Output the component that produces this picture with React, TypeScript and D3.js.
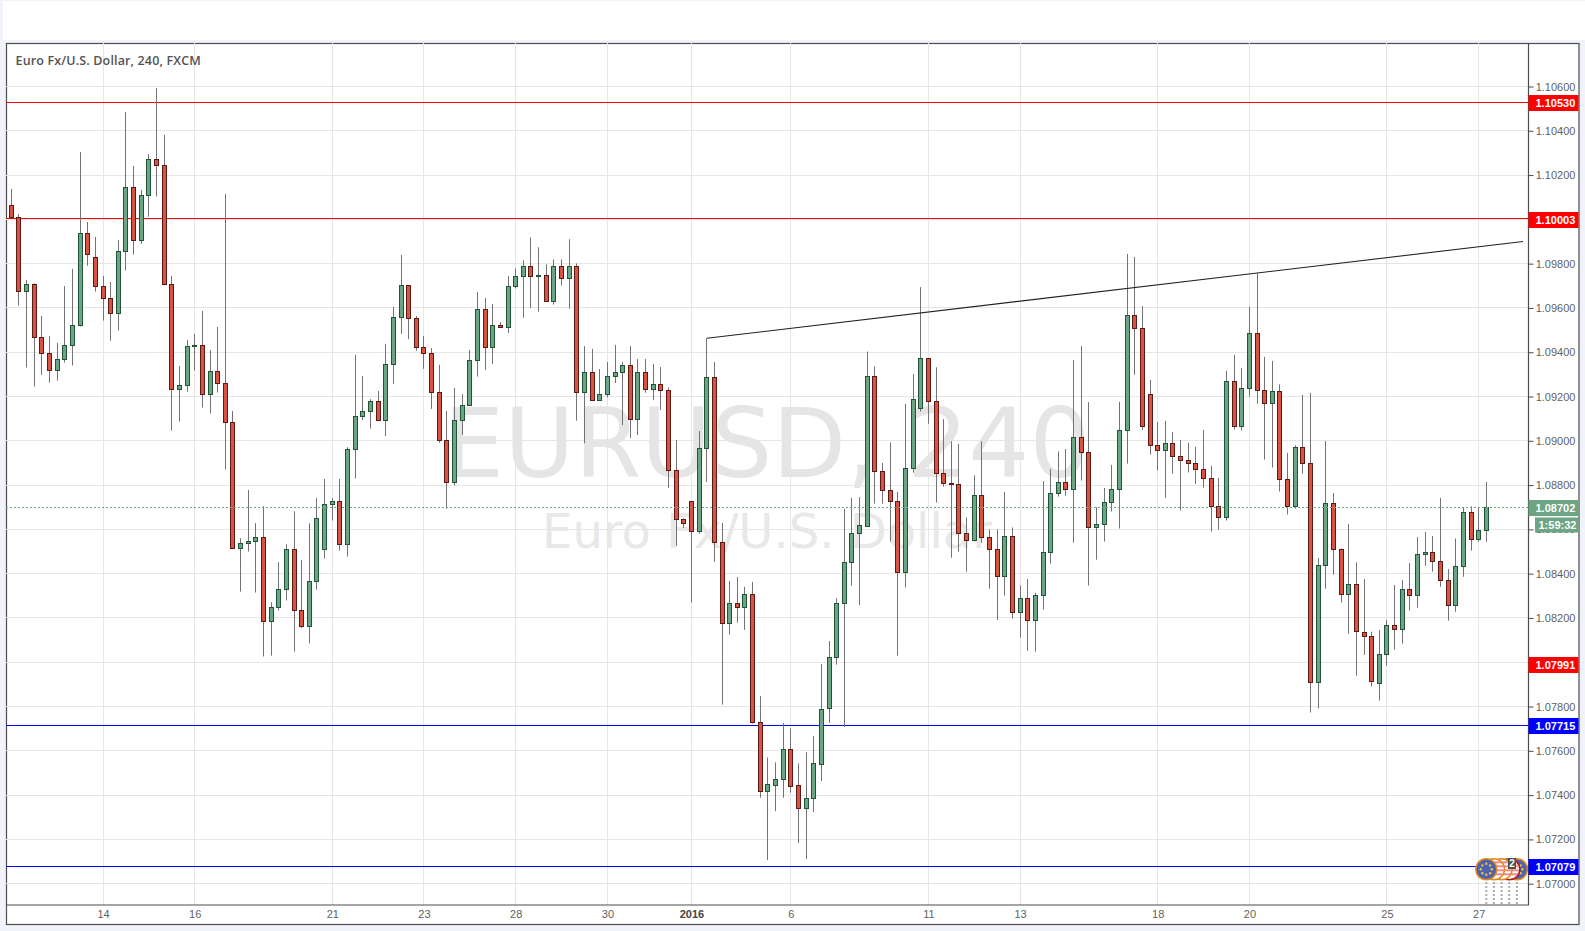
import * as d3 from "d3";
import { useEffect, useRef } from "react";

const WIDTH = 1585;
const HEIGHT = 931;

const opens = [
  1.10064,1.10009,1.09675,1.09707,1.09468,1.09395,1.09319,1.09368,1.09431,1.09522,
  1.09937,1.09829,1.09698,1.09644,1.09576,1.09856,1.10145,1.09906,1.10109,1.10271,
  1.10244,1.09707,1.09233,1.09251,1.09427,1.09431,1.09210,1.09314,1.09260,1.09084,
  1.08515,1.08538,1.08547,1.08565,1.08185,1.08249,1.08330,1.08510,1.08235,1.08163,
  1.08366,1.08510,1.08714,1.08727,1.08533,1.08962,1.09111,1.09134,1.09179,1.09093,
  1.09346,1.09558,1.09702,1.09553,1.09423,1.09395,1.09219,1.09003,1.08813,1.09092,
  1.09160,1.09363,1.09594,1.09422,1.09521,1.09512,1.09698,1.09743,1.09788,1.09743,
  1.09747,1.09630,1.09788,1.09734,1.09788,1.09219,1.09309,1.09183,1.09210,1.09291,
  1.09309,1.09341,1.09097,1.09309,1.09232,1.09255,1.09228,1.08867,1.08646,1.08727,
  1.08591,1.08966,1.09287,1.08542,1.08176,1.08266,1.08247,1.08307,1.07729,1.07416,
  1.07448,1.07475,1.07610,1.07444,1.07339,1.07385,1.07543,1.07791,1.08022,1.08266,
  1.08451,1.08584,1.08617,1.09293,1.08862,1.08776,1.08727,1.08406,1.08876,1.09147,
  1.09372,1.09178,1.08853,1.08808,1.08803,1.08582,1.08551,1.08754,1.08564,1.08510,
  1.08388,1.08569,1.08226,1.08289,1.08189,1.08302,1.08496,1.08763,1.08812,1.08781,
  1.09016,1.08948,1.08609,1.08623,1.08723,1.08781,1.09048,1.09567,1.09508,1.09210,
  1.08980,1.08957,1.08989,1.08930,1.08912,1.08899,1.08872,1.08831,1.08705,1.08655,
  1.09269,1.09066,1.09237,1.09486,1.09228,1.09170,1.09224,1.08827,1.08703,1.08971,
  1.08899,1.07910,1.08436,1.08717,1.08510,1.08305,1.08352,1.08138,1.08120,1.07905,
  1.08036,1.08167,1.08149,1.08329,1.08302,1.08487,1.08496,1.08456,1.08370,1.08257,
  1.08433,1.08677,1.08555,1.08596,
];

const highs = [
  1.10137,1.10024,1.09726,1.09711,1.09564,1.09474,1.09442,1.09699,1.09776,1.10304,
  1.09988,1.09921,1.09744,1.09717,1.09907,1.10485,1.10241,1.10133,1.10295,1.10593,
  1.10381,1.09744,1.09338,1.09456,1.09483,1.09586,1.09410,1.09514,1.10115,1.09135,
  1.08560,1.08778,1.08628,1.08705,1.08271,1.08452,1.08533,1.08682,1.08461,1.08628,
  1.08742,1.08828,1.08741,1.08828,1.08971,1.09388,1.09293,1.09188,1.09225,1.09438,
  1.09605,1.09839,1.09702,1.09564,1.09474,1.09419,1.09343,1.09135,1.09239,1.09211,
  1.09410,1.09672,1.09645,1.09618,1.09536,1.09744,1.09779,1.09815,1.09919,1.09874,
  1.09797,1.09819,1.09819,1.09910,1.09801,1.09428,1.09415,1.09324,1.09356,1.09433,
  1.09356,1.09428,1.09369,1.09369,1.09347,1.09333,1.09241,1.09004,1.08650,1.08727,
  1.09044,1.09463,1.09356,1.08629,1.08367,1.08385,1.08341,1.08363,1.07847,1.07570,
  1.07548,1.07726,1.07702,1.07543,1.07595,1.07666,1.07992,1.08096,1.08289,1.08693,
  1.08743,1.08746,1.09403,1.09336,1.08900,1.08993,1.08769,1.09166,1.09302,1.09694,
  1.09372,1.09332,1.09098,1.08998,1.08986,1.08654,1.08844,1.08998,1.08600,1.08600,
  1.08769,1.08609,1.08347,1.08376,1.08313,1.08818,1.08873,1.08952,1.08963,1.09365,
  1.09428,1.09175,1.08700,1.08787,1.08891,1.09176,1.09844,1.09830,1.09608,1.09275,
  1.09085,1.09090,1.09040,1.09004,1.08991,1.08973,1.09049,1.08887,1.08833,1.09316,
  1.09388,1.09329,1.09605,1.09757,1.09379,1.09361,1.09255,1.08945,1.08980,1.09207,
  1.09216,1.08471,1.08999,1.08764,1.08514,1.08624,1.08451,1.08376,1.08138,1.08146,
  1.08191,1.08349,1.08371,1.08448,1.08565,1.08588,1.08570,1.08742,1.08421,1.08559,
  1.08699,1.08704,1.08699,1.08814,
];

const lows = [
  1.10009,1.09611,1.09331,1.09245,1.09299,1.09263,1.09272,1.09353,1.09340,1.09516,
  1.09791,1.09674,1.09543,1.09452,1.09498,1.09769,1.09841,1.09890,1.10012,1.10103,
  1.09702,1.09046,1.09087,1.09222,1.09317,1.09150,1.09123,1.09218,1.08870,1.08515,
  1.08319,1.08500,1.08315,1.08026,1.08030,1.08234,1.08279,1.08048,1.08154,1.08085,
  1.08328,1.08468,1.08640,1.08504,1.08477,1.08830,1.09094,1.09055,1.09093,1.09022,
  1.09257,1.09483,1.09460,1.09406,1.09325,1.09144,1.08991,1.08693,1.08798,1.09026,
  1.09160,1.09290,1.09320,1.09347,1.09512,1.09487,1.09688,1.09556,1.09600,1.09583,
  1.09630,1.09615,1.09701,1.09597,1.09091,1.08989,1.09183,1.09183,1.09196,1.09261,
  1.09071,1.09013,1.09026,1.09217,1.09184,1.09139,1.08787,1.08525,1.08606,1.08269,
  1.08581,1.08814,1.08454,1.07809,1.08125,1.08179,1.08146,1.07723,1.07388,1.07107,
  1.07328,1.07388,1.07411,1.07184,1.07112,1.07324,1.07464,1.07726,1.07989,1.07708,
  1.08346,1.08258,1.08617,1.08716,1.08716,1.08545,1.08030,1.08338,1.08856,1.09132,
  1.09077,1.08721,1.08793,1.08472,1.08499,1.08409,1.08545,1.08539,1.08332,1.08191,
  1.08301,1.08197,1.08111,1.08052,1.08048,1.08238,1.08445,1.08748,1.08752,1.08540,
  1.08820,1.08347,1.08463,1.08545,1.08681,1.08604,1.08897,1.09298,1.09049,1.08938,
  1.08866,1.08742,1.08852,1.08685,1.08857,1.08805,1.08789,1.08590,1.08599,1.08640,
  1.09051,1.09046,1.09200,1.09168,1.08915,1.08879,1.08771,1.08667,1.08694,1.08852,
  1.07773,1.07791,1.08332,1.08395,1.08269,1.08129,1.07939,1.08033,1.07890,1.07827,
  1.07985,1.08057,1.08084,1.08233,1.08246,1.08436,1.08409,1.08341,1.08188,1.08228,
  1.08386,1.08504,1.08544,1.08544,
];

const closes = [
  1.10009,1.09675,1.09707,1.09468,1.09395,1.09319,1.09368,1.09431,1.09522,1.09937,
  1.09842,1.09698,1.09644,1.09576,1.09856,1.10145,1.09906,1.10109,1.10271,1.10244,
  1.09707,1.09233,1.09251,1.09427,1.09431,1.09210,1.09314,1.09260,1.09084,1.08515,
  1.08538,1.08547,1.08565,1.08185,1.08249,1.08330,1.08510,1.08235,1.08163,1.08366,
  1.08650,1.08714,1.08727,1.08533,1.08962,1.09111,1.09134,1.09179,1.09093,1.09346,
  1.09558,1.09702,1.09553,1.09423,1.09395,1.09219,1.09003,1.08813,1.09093,1.09160,
  1.09363,1.09594,1.09422,1.09521,1.09512,1.09698,1.09743,1.09788,1.09743,1.09747,
  1.09630,1.09788,1.09734,1.09788,1.09219,1.09309,1.09183,1.09210,1.09291,1.09309,
  1.09341,1.09097,1.09309,1.09232,1.09255,1.09228,1.08867,1.08646,1.08627,1.08591,
  1.08966,1.09287,1.08542,1.08176,1.08266,1.08248,1.08307,1.07729,1.07416,1.07448,
  1.07475,1.07610,1.07444,1.07339,1.07385,1.07543,1.07791,1.08022,1.08266,1.08451,
  1.08584,1.08620,1.09293,1.08862,1.08776,1.08727,1.08406,1.08876,1.09187,1.09372,
  1.09178,1.08853,1.08808,1.08803,1.08582,1.08551,1.08754,1.08564,1.08510,1.08388,
  1.08569,1.08226,1.08289,1.08189,1.08302,1.08496,1.08763,1.08812,1.08781,1.09016,
  1.08948,1.08609,1.08623,1.08722,1.08781,1.09048,1.09567,1.09508,1.09066,1.08980,
  1.08957,1.08989,1.08930,1.08912,1.08899,1.08872,1.08831,1.08705,1.08655,1.09269,
  1.09066,1.09237,1.09486,1.09228,1.09170,1.09224,1.08827,1.08703,1.08971,1.08899,
  1.07910,1.08438,1.08717,1.08508,1.08305,1.08352,1.08138,1.08120,1.07917,1.08036,
  1.08167,1.08149,1.08329,1.08302,1.08487,1.08496,1.08456,1.08370,1.08257,1.08433,
  1.08677,1.08555,1.08596,1.08702,
];

const priceTicks = [
  1.07, 1.072, 1.074, 1.076, 1.078, 1.08, 1.082, 1.084, 1.086, 1.088, 1.09,
  1.092, 1.094, 1.096, 1.098, 1.1, 1.102, 1.104, 1.106,
];
const dateTickBars = [12, 24, 42, 54, 66, 78, 89, 102, 120, 132, 150, 162, 180, 192];
const dateTickLabels = ["14", "16", "21", "23", "28", "30", "2016", "6", "11", "13", "18", "20", "25", "27"];

const redLevels = [1.1053, 1.10003];
const blueLevels = [1.07715, 1.07079];
const trendBars = [91, 197.8];
const trendPrices = [1.09463, 1.099];
const lastPrice = 1.08702;
const countdown = "1:59:32";

const priceTags = [
  { price: 1.1053, color: "#ff0000" },
  { price: 1.10003, color: "#ff0000" },
  { price: 1.07991, color: "#ff0000" },
  { price: 1.07715, color: "#0000ff" },
  { price: 1.07079, color: "#0000ff" },
  { price: lastPrice, color: "#6ba583" },
];

// events on the time scale, right one is drawn first
const eventBars = [197, 196, 195, 194, 193];
const eventKinds = ["eu", "us", "us", "us", "eu"];

const UP = "#6ba583";
const UP_BORDER = "#225437";
const DOWN = "#d75442";
const DOWN_BORDER = "#5b1a13";
const WICK = "#737375";
const GRID = "#e6e6e6";
const FRAME = "#4c4c4c";
const AXIS_TEXT = "#5f5f5f";

const plot = { left: 6, top: 43, right: 1528.5, bottom: 905, outerRight: 1578.5, outerBottom: 924 };

export default function App() {
  const svgRef = useRef<SVGSVGElement>(null);

  useEffect(() => {
    const svg = d3.select(svgRef.current);
    svg.selectAll("*").remove();

    const x = d3.scaleLinear().domain([0, 193]).range([11.3, 1486.3]);
    const y = d3.scaleLinear().domain([1.07, 1.106]).range([883.7, 86.5]);
    const snap = (v: number) => Math.floor(v) + 0.5;

    // page and panels
    svg.append("rect").attr("width", WIDTH).attr("height", HEIGHT).attr("fill", "#f0f3fa");
    svg.append("rect").attr("x", 3).attr("y", 1).attr("width", WIDTH - 3).attr("height", 39).attr("fill", "#fff");
    svg
      .append("rect")
      .attr("x", plot.left + 0.5)
      .attr("y", plot.top + 0.5)
      .attr("width", plot.outerRight - plot.left)
      .attr("height", plot.outerBottom - plot.top)
      .attr("fill", "#fff")
      .attr("stroke", FRAME)
      .attr("stroke-width", 1.2);

    const defs = svg.append("defs");
    defs
      .append("clipPath")
      .attr("id", "plot-clip")
      .append("rect")
      .attr("x", plot.left)
      .attr("y", plot.top)
      .attr("width", plot.right - plot.left)
      .attr("height", plot.bottom - plot.top);

    const pane = svg.append("g").attr("clip-path", "url(#plot-clip)");

    // grid
    pane
      .selectAll("line.hgrid")
      .data(priceTicks)
      .join("line")
      .attr("x1", plot.left)
      .attr("x2", plot.right)
      .attr("y1", (d) => snap(y(d)))
      .attr("y2", (d) => snap(y(d)))
      .attr("stroke", GRID);
    pane
      .selectAll("line.vgrid")
      .data(dateTickBars)
      .join("line")
      .attr("x1", (d) => snap(x(d)))
      .attr("x2", (d) => snap(x(d)))
      .attr("y1", plot.top)
      .attr("y2", plot.bottom)
      .attr("stroke", GRID);

    // watermark
    pane
      .append("text")
      .attr("x", 767)
      .attr("y", 477)
      .attr("text-anchor", "middle")
      .attr("font-family", "DejaVu Sans, sans-serif")
      .attr("font-size", 96)
      .attr("fill", "#e5e5e5")
      .text("EURUSD, 240");
    pane
      .append("text")
      .attr("x", 767)
      .attr("y", 548)
      .attr("text-anchor", "middle")
      .attr("font-family", "DejaVu Sans, sans-serif")
      .attr("font-size", 48)
      .attr("fill", "#e8e8e8")
      .text("Euro Fx/U.S. Dollar");

    // horizontal levels
    const drawLevels = (levels: number[], color: string) => {
      pane
        .append("g")
        .selectAll("line")
        .data(levels)
        .join("line")
        .attr("x1", plot.left)
        .attr("x2", plot.right)
        .attr("y1", (d) => snap(y(d)))
        .attr("y2", (d) => snap(y(d)))
        .attr("stroke", color);
    };
    drawLevels(redLevels, "#ff0000");
    drawLevels(blueLevels, "#0000ff");

    // candles
    const bars = d3.range(opens.length);
    const candles = pane.append("g");
    candles
      .selectAll("line")
      .data(bars)
      .join("line")
      .attr("x1", (i) => snap(x(i)))
      .attr("x2", (i) => snap(x(i)))
      .attr("y1", (i) => y(highs[i]))
      .attr("y2", (i) => y(lows[i]))
      .attr("stroke", WICK);
    candles
      .selectAll("rect")
      .data(bars)
      .join("rect")
      .attr("x", (i) => snap(x(i)) - 2)
      .attr("width", 4)
      .attr("y", (i) => Math.round(y(Math.max(opens[i], closes[i]))) + 0.5)
      .attr("height", (i) => Math.max(1, Math.round(Math.abs(y(opens[i]) - y(closes[i])))))
      .attr("fill", (i) => (closes[i] >= opens[i] ? UP : DOWN))
      .attr("stroke", (i) => (closes[i] >= opens[i] ? UP_BORDER : DOWN_BORDER));

    // trend line
    const trend = d3
      .line<number>()
      .x((d) => x(d))
      .y((_, i) => y(trendPrices[i]));
    pane
      .append("path")
      .attr("d", trend(trendBars))
      .attr("fill", "none")
      .attr("stroke", "#222")
      .attr("stroke-width", 1.1);

    // last price line
    pane
      .append("line")
      .attr("x1", plot.left)
      .attr("x2", plot.right)
      .attr("y1", snap(y(lastPrice)) + 1)
      .attr("y2", snap(y(lastPrice)) + 1)
      .attr("stroke", UP)
      .attr("stroke-dasharray", "2 2");

    // events
    pane
      .append("g")
      .selectAll("line")
      .data(eventBars)
      .join("line")
      .attr("x1", (d) => x(d))
      .attr("x2", (d) => x(d))
      .attr("y1", 882)
      .attr("y2", plot.bottom)
      .attr("stroke", "#aaa")
      .attr("stroke-width", 2)
      .attr("stroke-dasharray", "2 2");

    const stripes = [-8, -4, 0, 4];
    eventBars.forEach((bar, k) => {
      const cx = x(bar);
      const cy = 869.3;
      const kind = eventKinds[k];
      const clipId = `event-${bar}`;
      defs.append("clipPath").attr("id", clipId).append("circle").attr("cx", cx).attr("cy", cy).attr("r", 10);
      const g = pane.append("g");
      g.append("circle")
        .attr("cx", cx)
        .attr("cy", cy)
        .attr("r", 10.5)
        .attr("fill", kind === "eu" ? "#4a62b0" : "#fff")
        .attr("stroke", bar === 196 ? "#b01818" : "#e08a1e")
        .attr("stroke-width", 1.5);
      if (kind === "eu") {
        d3.range(8).forEach((s) => {
          const a = (s / 8) * Math.PI * 2;
          g.append("circle")
            .attr("cx", cx + Math.cos(a) * 5.5)
            .attr("cy", cy + Math.sin(a) * 5.5)
            .attr("r", 1.2)
            .attr("fill", "#f2c230");
        });
      } else {
        g.append("g")
          .attr("clip-path", `url(#${clipId})`)
          .selectAll("rect")
          .data(stripes)
          .join("rect")
          .attr("x", cx + 1)
          .attr("width", 10)
          .attr("y", (d) => cy + d)
          .attr("height", 2)
          .attr("fill", "#f08a8a");
      }
    });
    pane
      .append("rect")
      .attr("x", 1508)
      .attr("y", 858)
      .attr("width", 8)
      .attr("height", 11)
      .attr("fill", "#4f4f4f");
    pane
      .append("text")
      .attr("x", 1512)
      .attr("y", 867)
      .attr("text-anchor", "middle")
      .attr("font-family", "Liberation Sans, Arial, sans-serif")
      .attr("font-size", 10)
      .attr("font-weight", 700)
      .attr("fill", "#fff")
      .text("2");

    // frame of the pane
    svg
      .append("path")
      .attr("d", `M${plot.right},${plot.top} V${plot.bottom} H${plot.left}`)
      .attr("fill", "none")
      .attr("stroke", FRAME)
      .attr("stroke-width", 1.2);

    // axes
    const priceAxis = svg
      .append("g")
      .attr("transform", `translate(${plot.right},0)`)
      .call(
        d3
          .axisRight(y)
          .tickValues(priceTicks)
          .tickSize(5)
          .tickPadding(2.2)
          .tickFormat((d) => d3.format(".5f")(d as number)),
      );
    priceAxis.select(".domain").remove();
    priceAxis.selectAll("line").attr("stroke", FRAME);
    priceAxis
      .selectAll("text")
      .attr("font-family", "Liberation Sans, Arial, sans-serif")
      .attr("font-size", 11)
      .attr("fill", AXIS_TEXT);

    const dateAxis = svg
      .append("g")
      .attr("transform", `translate(0,${plot.bottom})`)
      .call(
        d3
          .axisBottom(x)
          .tickValues(dateTickBars)
          .tickSize(0)
          .tickPadding(5)
          .tickFormat((_, i) => dateTickLabels[i]),
      );
    dateAxis.select(".domain").remove();
    dateAxis
      .selectAll("text")
      .attr("font-family", "Liberation Sans, Arial, sans-serif")
      .attr("font-size", 11)
      .attr("fill", AXIS_TEXT)
      .filter((_, i) => dateTickLabels[i] === "2016")
      .attr("font-weight", 700)
      .attr("fill", "#444");

    // price tags
    const tags = svg
      .append("g")
      .selectAll("g")
      .data(priceTags)
      .join("g")
      .attr("transform", (d) => `translate(${plot.right},${Math.round(y(d.price)) + 1})`);
    tags
      .append("rect")
      .attr("y", -8)
      .attr("width", plot.outerRight - plot.right)
      .attr("height", 16)
      .attr("fill", (d) => d.color);
    tags
      .append("text")
      .attr("x", 7)
      .attr("dy", "0.36em")
      .attr("font-family", "Liberation Sans, Arial, sans-serif")
      .attr("font-size", 11)
      .attr("font-weight", 700)
      .attr("fill", "#fff")
      .text((d) => d3.format(".5f")(d.price));

    svg
      .append("rect")
      .attr("x", 1535)
      .attr("y", 517.5)
      .attr("width", plot.outerRight - 1535)
      .attr("height", 15)
      .attr("fill", UP);
    svg
      .append("text")
      .attr("x", 1538.5)
      .attr("y", 529)
      .attr("font-family", "Liberation Sans, Arial, sans-serif")
      .attr("font-size", 11)
      .attr("font-weight", 700)
      .attr("fill", "#fff")
      .text(countdown);

    // title
    svg
      .append("text")
      .attr("x", 15.5)
      .attr("y", 64.5)
      .attr("font-family", "Open Sans, sans-serif")
      .attr("font-size", 12.5)
      .attr("font-weight", 600)
      .attr("letter-spacing", 0.15)
      .attr("fill", "#535353")
      .text("Euro Fx/U.S. Dollar, 240, FXCM");
  }, []);

  return (
    <svg
      ref={svgRef}
      width={WIDTH}
      height={HEIGHT}
      style={{ position: "absolute", left: 0, top: 0, display: "block" }}
    />
  );
}
